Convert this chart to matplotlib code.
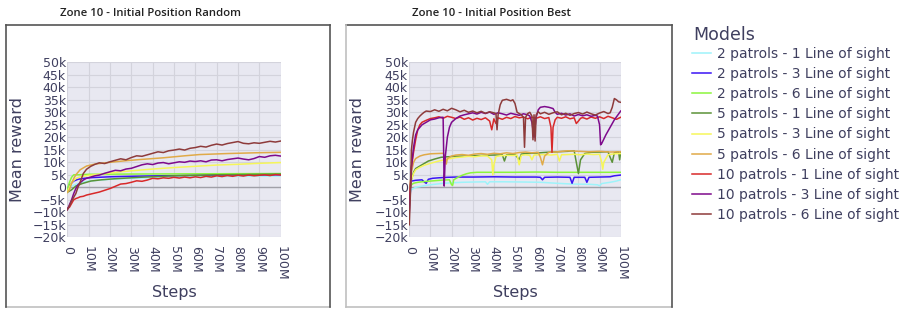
import matplotlib
matplotlib.use("Agg")
import matplotlib.pyplot as plt
from matplotlib.lines import Line2D

# Series order / names / colours (legend order)
model_names = [
    "2 patrols - 1 Line of sight", "2 patrols - 3 Line of sight", "2 patrols - 6 Line of sight",
    "5 patrols - 1 Line of sight", "5 patrols - 3 Line of sight", "5 patrols - 6 Line of sight",
    "10 patrols - 1 Line of sight", "10 patrols - 3 Line of sight", "10 patrols - 6 Line of sight",
]
model_colors = ["#9ef3fa", "#3a14f5", "#8cf53c", "#5b9238", "#f6f65a",
                "#e0aa48", "#d8292a", "#7e0a8c", "#8e3b3b"]

x_ticks = [0, 10, 20, 30, 40, 50, 60, 70, 80, 90, 100]
x_tick_labels = ["0", "10M", "20M", "30M", "40M", "50M", "60M", "70M", "80M", "90M", "100M"]
y_ticks = [-20, -15, -10, -5, 0, 5, 10, 15, 20, 25, 30, 35, 40, 45, 50]
y_tick_labels = ["\u221220k", "\u221215k", "\u221210k", "\u22125k", "0", "5k", "10k", "15k",
                 "20k", "25k", "30k", "35k", "40k", "45k", "50k"]

# ---- Initial Position Random (steps in M, reward in k) ----
rnd_cyan_x = [0, 2, 5, 10, 20, 30, 45, 60, 80, 100]
rnd_cyan_y = [0, 0.5, 1.5, 2.5, 3.2, 3.6, 4.0, 4.2, 4.4, 4.5]
rnd_blue_x = [0, 1, 3, 5, 8, 12, 20, 30, 50, 70, 100]
rnd_blue_y = [-1, 1, 2.5, 3.2, 3.6, 3.9, 4.2, 4.4, 4.7, 4.9, 5.0]
rnd_lime_x = [0, 1, 2, 3, 5, 10, 30, 60, 100]
rnd_lime_y = [-1, 2, 4, 5, 5, 5.2, 5.3, 5.4, 5.5]
rnd_green_x = [0, 2, 4, 7, 11, 16, 22, 34, 50, 70, 100]
rnd_green_y = [-2, -1, 0.5, 1.5, 2.5, 3.0, 3.4, 4.0, 4.6, 5.0, 5.3]
rnd_yellow_x = [0, 1, 2, 4, 6, 10, 15, 20, 25, 30, 40, 50, 60, 70, 80, 90, 100]
rnd_yellow_y = [-2, 0, 2, 3.5, 4.2, 4.8, 5.2, 5.7, 6.2, 6.6, 7.3, 7.9, 8.4, 8.9, 9.2, 9.6, 9.9]
rnd_orange_x = [0, 1, 2, 3, 4, 6, 9, 13, 20, 27, 34, 45, 55, 62, 75, 88, 100]
rnd_orange_y = [-2, -1, 1.5, 3.5, 5, 7, 8.5, 9.3, 10, 10.6, 11.1, 11.8, 12.6, 13.1, 13.5, 13.8, 14]
rnd_steps = [0, 1, 2, 3, 4, 5, 6, 7.5, 9, 11, 13, 15, 17.5, 20, 22.5, 25, 27.5, 30, 32.5, 35,
             37.5, 40, 42.5, 45, 47.5, 50, 52.5, 55, 57.5, 60, 62.5, 65, 67.5, 70, 72.5, 75,
             77.5, 80, 82.5, 85, 87.5, 90, 92.5, 95, 97.5, 100]
rnd_red_y = [-8.5, -8, -6.5, -5, -4.5, -4.2, -3.8, -3.6, -3.1, -2.7, -2.3, -1.9, -1.2, -0.5,
             0.4, 1.3, 1.5, 2.0, 2.6, 2.4, 2.9, 3.6, 3.4, 3.8, 3.6, 4.0, 3.7, 4.1, 3.8, 4.2,
             3.9, 4.4, 4.1, 4.6, 4.3, 4.7, 4.4, 4.8, 4.5, 4.9, 4.6, 4.8, 5.0, 4.7, 5.1, 4.9]
rnd_purple_y = [-9, -7, -5, -2.5, -0.5, 1, 1.8, 2.9, 3.6, 4.1, 4.6, 4.9, 5.6, 6.2, 6.8, 6.6,
                7.3, 7.6, 8.3, 9.0, 9.4, 9.1, 9.7, 9.9, 9.4, 9.8, 10.2, 10.0, 10.5, 10.3, 10.6,
                10.2, 10.9, 11.0, 10.6, 11.1, 11.4, 11.7, 11.3, 11.0, 11.5, 12.3, 12.0, 12.6,
                12.8, 12.5]
rnd_brown_y = [-9, -7.5, -5.5, -4, -2.5, 0, 2, 5.5, 7.2, 8.4, 9.2, 9.8, 9.5, 10.2, 10.8, 11.4,
               11.0, 11.9, 12.6, 12.4, 13.0, 13.6, 14.2, 13.9, 14.6, 14.9, 15.3, 14.9, 15.6,
               15.9, 16.4, 16.1, 16.8, 17.3, 16.9, 17.5, 17.9, 18.3, 17.6, 17.4, 17.8, 17.6,
               18.0, 18.4, 18.1, 18.5]

# ---- Initial Position Best ----
best_cyan_x = [0, 1, 3, 5, 8, 12, 16, 20, 25, 30, 36, 37, 38, 45, 55, 62, 70, 77, 85, 89,
               90, 91, 95, 98, 100]
best_cyan_y = [-3, -1, 0, 0.3, 0.8, 1.2, 1.6, 1.8, 2, 2.1, 2.2, 1.2, 2.2, 2.2, 2.1, 2, 1.6,
               1.3, 1.2, 1, 0.6, 1.5, 2, 2.5, 3]
best_blue_x = [0, 0.5, 1, 3, 6, 7, 8, 9, 11, 14, 18, 22, 30, 40, 50, 60, 62, 63, 64, 70, 76,
               77, 78, 80, 83, 84, 85, 90, 95, 97, 100]
best_blue_y = [-2, 1, 2.5, 2.8, 3, 2.2, 1.6, 3.2, 3.6, 3.8, 4, 4.1, 4.1, 4.2, 4.1, 4.1, 4, 3,
               4, 4.1, 4, 1.6, 4, 4, 4, 2, 4, 4.1, 4.2, 4.6, 4.9]
best_lime_x = [0, 0.5, 1, 2, 4, 7, 10, 13, 16, 19, 20, 20.5, 21, 23, 25, 27, 29, 32, 40, 50,
               60, 70, 80, 90, 100]
best_lime_y = [-1, 0, 1, 1.6, 2, 2.3, 2.5, 2.7, 2.9, 3, 1, 0.8, 3, 4, 4.8, 5.4, 5.8, 6, 6, 6,
               6.1, 6, 6, 6, 6]
best_green_x = [0, 0.5, 1, 2, 3, 5, 7, 9, 12, 15, 18, 22, 26, 30, 35, 40, 44, 45, 46, 50, 52,
                53, 55, 60, 65, 70, 75, 78, 79, 80, 81, 83, 86, 90, 94, 95, 96, 97, 99, 99.5, 100]
best_green_y = [-3, 0, 3, 6, 7.5, 8.5, 9.5, 10.5, 11.3, 12, 12.2, 12.4, 12.5, 12.6, 12.8, 12.9,
                13, 10.5, 13, 13.2, 11, 13.3, 13.5, 13.7, 14, 14.2, 14.4, 14.6, 10, 5.5, 11,
                13.5, 14, 14.1, 14.2, 12, 10, 13.8, 14.2, 11, 14]
best_yellow_x = [0, 0.5, 1, 2, 3, 5, 7, 10, 13, 16, 19, 22, 25, 28, 31, 34, 37, 39, 39.5, 40,
                 41, 43, 46, 49, 51, 52, 53, 55, 57, 58, 59, 61, 64, 67, 70, 71, 72, 75, 78,
                 81, 84, 87, 90, 91, 91.5, 92, 94, 97, 100]
best_yellow_y = [-4, 0, 3, 5.5, 7, 8, 8.8, 9.6, 10.3, 10.9, 11.4, 11.9, 12.1, 12.4, 12.2,
                 12.6, 12.5, 11, 5, 9, 12.3, 12.6, 12.8, 12.7, 12.9, 9, 12.8, 13, 12.8, 11,
                 12.9, 13, 13.1, 12.9, 13.2, 10.5, 13, 13.1, 13.2, 13, 13.3, 13.1, 13.2, 10,
                 7.2, 10, 13, 13.4, 13.5]
best_orange_x = [0, 0.5, 1, 2, 3, 5, 7, 10, 13, 16, 17, 17.5, 18, 20, 22, 25, 28, 31, 34, 37,
                 40, 43, 46, 49, 52, 55, 58, 61, 62, 63, 64, 66, 70, 75, 80, 85, 90, 95, 100]
best_orange_y = [-2, 2, 6, 10, 11.5, 12.5, 13, 13.4, 13.5, 13.6, 12, 9.3, 11.5, 12.5, 12.9,
                 13.1, 12.8, 13.3, 13.5, 13.2, 13.6, 13.4, 13.8, 13.5, 13.9, 14.1, 13.8, 14,
                 12, 9, 12.5, 14, 14.2, 14.6, 14.4, 14.2, 14.4, 14.1, 14.2]
best_red_x = [0, 0.5, 1, 2, 3, 4, 5, 6, 8, 10, 12, 14, 16, 18, 20, 22, 24, 26, 28, 30, 32, 34,
              36, 38, 39, 40, 41, 42, 44, 46, 48, 50, 52, 54, 56, 58, 60, 62, 64, 66, 67, 67.5,
              68, 69, 70, 72, 74, 76, 78, 79, 80, 81, 82, 84, 86, 88, 90, 92, 94, 96, 98, 100]
best_red_y = [-5, 0, 8, 14, 19, 23, 25, 26, 26.8, 27.5, 27.8, 28.2, 27.6, 28.4, 28, 27.5, 28.1,
              27.2, 27.8, 26.9, 27.6, 27.1, 27.8, 26.5, 23, 27.4, 25.5, 27.8, 27.2, 28, 27.5,
              28.3, 27.8, 28.1, 27.4, 28, 27.6, 28.2, 27.5, 27.9, 24, 14, 24, 27, 28, 27.6,
              28.2, 27.4, 27.8, 25.5, 26.5, 27.6, 27.9, 27.3, 28.1, 27.6, 28.2, 27.5, 28.4,
              27.8, 27.2, 28]
best_purple_x = [0, 0.5, 1, 2, 3, 4, 6, 8, 10, 12, 14, 15.5, 16, 16.5, 17, 18, 19, 20, 22, 24,
                 26, 28, 30, 32, 34, 36, 38, 40, 42, 44, 46, 48, 50, 52, 54, 56, 57, 58, 59, 60,
                 61, 62, 64, 66, 68, 69, 70, 72, 74, 76, 78, 80, 82, 84, 86, 88, 89, 90, 90.5,
                 91, 93, 95, 97, 100]
best_purple_y = [-10, -2, 8, 16, 21, 23, 25, 26, 27, 27.3, 27.8, 28, 28, 0.5, 12, 20, 24, 26,
                 27.5, 28.5, 29, 29.4, 29.8, 29.3, 30, 29.5, 30.1, 29.2, 29.8, 29.4, 28.9, 29.6,
                 29.2, 28.8, 29.4, 29, 28.5, 26, 20, 28, 31, 32, 32.3, 32, 31.5, 30, 29.2, 29.6,
                 28.9, 29.4, 28.5, 29.1, 28.6, 29, 28.4, 28.8, 28.5, 25, 17, 17.5, 21, 24, 27,
                 30.5]
best_brown_x = [0, 0.5, 1, 1.5, 2, 3, 4, 5, 6, 7, 8, 10, 12, 14, 16, 18, 20, 22, 24, 26, 28, 30,
                32, 34, 36, 38, 40, 41, 41.5, 42, 43, 44, 46, 48, 49, 50, 51, 52, 53, 54, 54.5,
                55, 56, 57, 58, 58.5, 59, 59.5, 60, 61, 62, 64, 66, 68, 70, 72, 74, 76, 78, 80,
                82, 84, 86, 88, 90, 92, 94, 95, 96, 97, 98, 99, 100]
best_brown_y = [-15, -3, 15, 19, 22, 26, 27.5, 28.5, 29.3, 30, 30.5, 30.3, 31, 30.4, 31.2,
                30.6, 31.6, 31, 30.2, 30.8, 30, 30.5, 29.8, 30.4, 29.6, 30.2, 29.8, 29.5, 23, 29,
                33, 34.8, 35.2, 34.6, 35, 33.5, 30, 29.5, 29, 28, 16, 28, 29.5, 30, 28.5, 19, 29,
                18.5, 29, 30.2, 29.4, 30, 29.2, 29.8, 30.2, 29, 29.6, 28.8, 29.5, 29.9, 29.3,
                30.1, 29.4, 28.9, 29.7, 30.3, 29.5, 29.8, 32, 35.5, 35, 34.2, 34]

random_series = [
    (rnd_cyan_x, rnd_cyan_y), (rnd_blue_x, rnd_blue_y), (rnd_lime_x, rnd_lime_y),
    (rnd_green_x, rnd_green_y), (rnd_yellow_x, rnd_yellow_y), (rnd_orange_x, rnd_orange_y),
    (rnd_steps, rnd_red_y), (rnd_steps, rnd_purple_y), (rnd_steps, rnd_brown_y),
]
best_series = [
    (best_cyan_x, best_cyan_y), (best_blue_x, best_blue_y), (best_lime_x, best_lime_y),
    (best_green_x, best_green_y), (best_yellow_x, best_yellow_y), (best_orange_x, best_orange_y),
    (best_red_x, best_red_y), (best_purple_x, best_purple_y), (best_brown_x, best_brown_y),
]

W, H = 908, 319
text_color = "#3f3f5f"
fig = plt.figure(figsize=(W / 100, H / 100), dpi=100)


def fx(px):
    return px / W


def fy(py):
    return 1 - py / H


def draw_box(x0, y0, x1, y1, left_col, right_col):
    # frame around each sub-picture
    fig.add_artist(Line2D([fx(x0), fx(x1)], [fy(y0), fy(y0)], color="#555555", lw=1.2))
    fig.add_artist(Line2D([fx(x0), fx(x1)], [fy(y1), fy(y1)], color="#c0c0c0", lw=1.2))
    fig.add_artist(Line2D([fx(x0), fx(x0)], [fy(y0), fy(y1)], color=left_col, lw=1.2))
    fig.add_artist(Line2D([fx(x1), fx(x1)], [fy(y0), fy(y1)], color=right_col, lw=1.2))


def draw_panel(left_px, right_px, series, title, title_x, label_x):
    ax = fig.add_axes([fx(left_px), fy(237.3), (right_px - left_px) / W, 175 / H])
    ax.set_facecolor("#e8e8f1")
    for (xs, ys), col, name in zip(series, model_colors, model_names):
        ax.plot(xs, ys, color=col, lw=1.1, label=name)
    ax.axhline(0, color="#a0a0a8", lw=1.0, zorder=0.9)
    ax.set_xlim(0, 100)
    ax.set_ylim(-20, 50)
    ax.set_xticks(x_ticks)
    ax.set_xticklabels(x_tick_labels, rotation=-90, fontsize=9, color=text_color)
    ax.set_yticks(y_ticks)
    ax.set_yticklabels(y_tick_labels, fontsize=9, color=text_color)
    ax.tick_params(axis="y", length=0, pad=1)
    ax.tick_params(axis="x", length=0, pad=6)
    ax.grid(True, color="#d3d3dc", lw=0.8)
    ax.set_axisbelow(True)
    for s in ax.spines.values():
        s.set_visible(False)
    ax.set_xlabel("Steps", fontsize=11.5, color=text_color)
    ax.xaxis.set_label_coords(0.5, -0.273)
    ax.set_ylabel("Mean reward", fontsize=11.5, color=text_color)
    ax.yaxis.set_label_coords(label_x, 0.5)
    fig.text(fx(title_x), fy(13), title, ha="center", va="center", fontsize=8.2,
             family="Open Sans", fontweight="semibold", color="#222222")
    return ax


ax1 = draw_panel(67.3, 280.7, random_series, "Zone 10 - Initial Position Random", 151, -0.198)
ax2 = draw_panel(409.3, 620.7, best_series, "Zone 10 - Initial Position Best", 492, -0.21)

draw_box(5.5, 25, 330, 307, "#555555", "#555555")
draw_box(346, 25, 672, 307, "#c0c0c0", "#555555")

fig.text(fx(693), fy(35), "Models", ha="left", va="center", fontsize=12.5, color=text_color)
handles, labels = ax1.get_legend_handles_labels()
leg = fig.legend(handles, labels, loc="upper left", bbox_to_anchor=(fx(692), fy(47)),
                 frameon=False, fontsize=10, handlelength=1.4, handletextpad=0.4,
                 labelspacing=0.44, borderpad=0, borderaxespad=0)
for t in leg.get_texts():
    t.set_color(text_color)

fig.savefig("out.png", dpi=100)
